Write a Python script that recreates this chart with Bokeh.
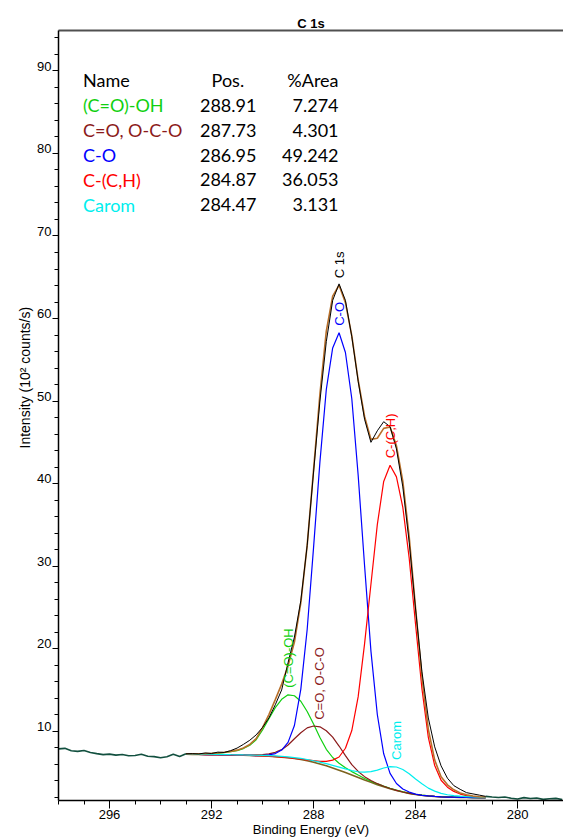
import numpy as np
from bokeh.plotting import figure
from bokeh.models import Range1d, LinearAxis, SingleIntervalTicker, FixedTicker, Title
from bokeh.core.properties import value
from bokeh.embed import file_html
from bokeh.resources import INLINE

# ---------------- data ----------------
# fit region energy grid (eV)
region_energy = [293.0, 292.75, 292.5, 292.25, 292.0, 291.75, 291.5, 291.25, 291.0, 290.75,
                 290.5, 290.25, 290.0, 289.75, 289.5, 289.25, 289.0, 288.75, 288.5, 288.25,
                 288.0, 287.75, 287.5, 287.25, 287.0, 286.75, 286.5, 286.25, 286.0, 285.75,
                 285.5, 285.25, 285.0, 284.75, 284.5, 284.25, 284.0, 283.75, 283.5, 283.25,
                 283.0, 282.75, 282.5, 282.25, 282.0, 281.75, 281.5, 281.25]

# Shirley background (10^2 counts/s)
background = [7.20, 7.19, 7.18, 7.17, 7.16, 7.15, 7.14, 7.12, 7.10, 7.08,
              7.06, 7.03, 7.00, 6.96, 6.92, 6.86, 6.78, 6.69, 6.57, 6.42,
              6.24, 6.03, 5.80, 5.54, 5.27, 4.98, 4.68, 4.38, 4.08, 3.80,
              3.52, 3.26, 3.02, 2.81, 2.62, 2.46, 2.33, 2.23, 2.15, 2.09,
              2.05, 2.02, 2.00, 1.98, 1.97, 1.96, 1.95, 1.95]

# component intensities above the background
comp_cooh = [0.04, 0.05, 0.06, 0.09, 0.13, 0.18, 0.27, 0.39, 0.54, 0.81,
             1.23, 1.93, 3.16, 4.54, 5.93, 7.00, 7.62, 7.60, 7.05, 5.97,
             4.62, 3.20, 2.00, 1.27, 0.85, 0.60, 0.42, 0.30, 0.19, 0.14,
             0.10, 0.08, 0.06, 0.05, 0.04, 0.03, 0.03, 0.02, 0.02, 0.01,
             0.01, 0.0, 0.0, 0.0, 0.0, 0.0, 0.0, 0.0]
comp_co_oco = [0.0, 0.0, 0.0, 0.0, 0.0, 0.0, 0.0, 0.01, 0.02, 0.03,
               0.05, 0.09, 0.15, 0.28, 0.52, 0.90, 1.55, 2.39, 3.24, 3.98,
               4.39, 4.50, 4.25, 3.74, 2.93, 2.05, 1.26, 0.74, 0.41, 0.22,
               0.12, 0.07, 0.04, 0.02, 0.01, 0.0, 0.0, 0.0, 0.0, 0.0,
               0.0, 0.0, 0.0, 0.0, 0.0, 0.0, 0.0, 0.0]
comp_c_o = [0.0, 0.0, 0.0, 0.0, 0.0, 0.0, 0.0, 0.0, 0.0, 0.0,
            0.0, 0.0, 0.05, 0.16, 0.37, 0.85, 1.86, 4.00, 8.50, 15.9,
            26.0, 36.6, 45.6, 50.9, 53.0, 50.9, 45.6, 36.6, 26.0, 15.9,
            8.50, 4.00, 1.86, 0.85, 0.37, 0.16, 0.05, 0.0, 0.0, 0.0,
            0.0, 0.0, 0.0, 0.0, 0.0, 0.0, 0.0, 0.0]
comp_cch = [0.0, 0.0, 0.0, 0.0, 0.0, 0.0, 0.0, 0.0, 0.0, 0.0,
            0.0, 0.0, 0.0, 0.0, 0.0, 0.0, 0.0, 0.0, 0.05, 0.10,
            0.20, 0.30, 0.55, 0.95, 1.60, 2.95, 5.40, 9.80, 16.5, 24.0,
            31.5, 37.0, 39.2, 38.0, 34.5, 28.5, 20.6, 12.9, 7.10, 3.75,
            2.00, 1.20, 0.70, 0.40, 0.23, 0.12, 0.06, 0.03]
comp_carom = [0.02, 0.02, 0.02, 0.02, 0.02, 0.03, 0.03, 0.03, 0.04, 0.04,
              0.05, 0.05, 0.06, 0.07, 0.08, 0.09, 0.10, 0.11, 0.13, 0.15,
              0.18, 0.22, 0.27, 0.32, 0.38, 0.45, 0.55, 0.70, 0.95, 1.30,
              1.76, 2.28, 2.68, 2.85, 2.74, 2.39, 1.87, 1.40, 0.95, 0.65,
              0.42, 0.28, 0.20, 0.14, 0.10, 0.07, 0.05, 0.04]

# measured spectrum
raw_energy = [298.0, 297.75, 297.5, 297.25, 297.0, 296.75, 296.5, 296.25, 296.0, 295.75,
              295.5, 295.25, 295.0, 294.75, 294.5, 294.25, 294.0, 293.75, 293.5, 293.25,
              293.0, 292.75, 292.5, 292.25, 292.0, 291.75, 291.5, 291.25, 291.0, 290.75,
              290.5, 290.25, 290.0, 289.75, 289.5, 289.25, 289.0, 288.75, 288.5, 288.25,
              288.0, 287.75, 287.5, 287.25, 287.0, 286.75, 286.5, 286.25, 286.0, 285.75,
              285.5, 285.25, 285.0, 284.75, 284.5, 284.25, 284.0, 283.75, 283.5, 283.25,
              283.0, 282.75, 282.5, 282.25, 282.0, 281.75, 281.5, 281.25, 281.0, 280.75,
              280.5, 280.25, 280.0, 279.75, 279.5, 279.25, 279.0, 278.75, 278.5, 278.25]
raw_counts = [7.85, 7.92, 7.62, 7.55, 7.66, 7.42, 7.28, 7.16, 7.22, 7.10,
              7.18, 7.02, 7.06, 7.20, 6.96, 6.92, 6.78, 6.90, 7.20, 6.92,
              7.26, 7.28, 7.24, 7.36, 7.30, 7.46, 7.42, 7.64, 7.95, 8.40,
              8.90, 9.55, 10.45, 11.60, 13.20, 15.00, 18.30, 21.40, 25.80, 32.50,
              41.40, 50.00, 57.20, 62.20, 64.20, 62.20, 57.80, 52.40, 47.80, 45.00,
              46.40, 47.50, 46.90, 44.20, 39.60, 32.90, 24.80, 17.20, 11.60, 8.10,
              5.80, 4.30, 3.40, 2.95, 2.55, 2.40, 2.25, 2.10, 2.02, 1.96,
              2.02, 1.88, 1.78, 1.95, 1.84, 1.90, 1.74, 1.82, 1.86, 1.72]

# y-axis tick labels
y_tick_values = [10, 20, 30, 40, 50, 60, 70, 80, 90]

# quantification table
comp_names = ["(C=O)-OH", "C=O, O-C-O", "C-O", "C-(C,H)", "Carom"]
comp_positions = [288.91, 287.73, 286.95, 284.87, 284.47]
comp_areas = [7.274, 4.301, 49.242, 36.053, 3.131]
table_headers = ["Name", "Pos.", "%Area"]

# ---------------- styling ----------------
FONT = "Liberation Sans"
TABLE_FONT = "Lato"
comp_colors = ["#10d010", "#8b1a1a", "#0000ff", "#ff0000", "#00eeee"]
BG_COLOR = "#7d6420"
ENV_COLOR = "#b8702a"
RAW_OUT_COLOR = "#12503f"

xr = np.array(region_energy)
bg = np.array(background)
comps = [np.array(c) for c in (comp_cooh, comp_co_oco, comp_c_o, comp_cch, comp_carom)]
envelope = bg + sum(comps)
rx = np.array(raw_energy)
ry = np.array(raw_counts)

X0, X1 = 298.0, 278.2
Y0, Y1 = 1.6, 94.9

p = figure(width=563, height=839, output_backend="svg", toolbar_location=None,
           x_range=Range1d(X0, X1), y_range=Range1d(Y0, Y1),
           min_border_left=58, min_border_right=0, min_border_top=30, min_border_bottom=39)
p.xgrid.visible = False
p.ygrid.visible = False
p.outline_line_color = None
p.background_fill_color = "white"
p.border_fill_color = "white"

p.xaxis.ticker = SingleIntervalTicker(interval=4, num_minor_ticks=4)
p.yaxis.ticker = SingleIntervalTicker(interval=10, num_minor_ticks=5)
for ax in (p.xaxis[0], p.yaxis[0]):
    ax.axis_line_color = "black"
    ax.axis_line_width = 1.5
    ax.major_tick_line_color = "black"
    ax.minor_tick_line_color = "black"
    ax.major_tick_in = 0
    ax.minor_tick_in = 0
    ax.major_label_text_font = FONT
    ax.major_label_text_font_size = "13px"
    ax.major_label_text_color = "black"
    ax.axis_label_text_font = FONT
    ax.axis_label_text_font_size = "13px"
    ax.axis_label_text_font_style = "normal"
    ax.axis_label_text_color = "black"
p.xaxis.major_tick_out = 8
p.xaxis.minor_tick_out = 4
p.xaxis.major_label_standoff = 1
p.xaxis.axis_label = "Binding Energy (eV)"
p.xaxis.axis_label_standoff = 0
p.yaxis.major_tick_out = 6
p.yaxis.minor_tick_out = 4
p.yaxis.major_label_standoff = 1
# y labels sit just above their tick, as in the reference
p.yaxis.major_label_overrides = {v: f"{v}\n " for v in y_tick_values}
p.yaxis.major_label_text_line_height = 0.65

# top frame line carrying the title
top_axis = LinearAxis(ticker=FixedTicker(ticks=[]), axis_line_color="#505050", axis_line_width=2,
                      major_label_standoff=0, axis_label="C 1s", axis_label_standoff=0,
                      axis_label_text_font=FONT, axis_label_text_font_size="13px",
                      axis_label_text_font_style="bold", axis_label_text_color="black")
p.add_layout(top_axis, "above")

# y-axis title (shifted upward as in the reference)
p.add_layout(Title(text="Intensity (10² counts/s)", align="left", offset=352,
                   text_font=FONT, text_font_size="14px", text_font_style="normal",
                   text_color="black", standoff=4), "left")

# background and components
p.line(xr, bg, color=BG_COLOR, line_width=1.6)
for comp, col in zip(comps, comp_colors):
    p.line(xr, bg + comp, color=col, line_width=1.2)
p.line(xr, envelope, color=ENV_COLOR, line_width=1.6)

# raw data: outside fit region (dark teal) and inside (black)
left = rx >= xr[0]
right = rx <= xr[-1]
inside = (rx <= xr[0]) & (rx >= xr[-1])
p.line(rx[left], ry[left], color=RAW_OUT_COLOR, line_width=1.6)
p.line(rx[right], ry[right], color=RAW_OUT_COLOR, line_width=1.6)
p.line(rx[inside], ry[inside], color="black", line_width=1.0)

# rotated peak labels, placed just above each curve maximum
peak_labels = [("C 1s", envelope, envelope, "black")]
for name, comp, col in zip(comp_names, comps, comp_colors):
    peak_labels.append((name, comp, bg + comp, col))
for name, shape, curve, col in peak_labels:
    i = int(np.argmax(shape))
    p.text(x=[xr[i]], y=[curve[i]], text=[name], angle=np.pi / 2,
           text_align="left", text_baseline="middle", y_offset=-7,
           text_font=value(FONT), text_font_size="13px", text_color=col)

# quantification table
row0, row_step = 88.87, 3.02
name_x, pos_right_x, pos_head_x, area_right_x = 297.04, 290.24, 291.36, 287.02
tstyle = dict(text_baseline="middle", text_font=value(TABLE_FONT), text_font_size="18px")
p.text(x=[name_x], y=[row0], text=[table_headers[0]], text_align="left", text_color="black", **tstyle)
p.text(x=[pos_head_x], y=[row0], text=[table_headers[1]], text_align="center", text_color="black", **tstyle)
p.text(x=[area_right_x], y=[row0], text=[table_headers[2]], text_align="right", text_color="black", **tstyle)
for k, (nm, pos, ar, col) in enumerate(zip(comp_names, comp_positions, comp_areas, comp_colors)):
    yy = row0 - (k + 1) * row_step
    p.text(x=[name_x], y=[yy], text=[nm], text_align="left", text_color=col, **tstyle)
    p.text(x=[pos_right_x], y=[yy], text=[f"{pos:.2f}"], text_align="right", text_color="black", **tstyle)
    p.text(x=[area_right_x], y=[yy], text=[f"{ar:.3f}"], text_align="right", text_color="black", **tstyle)

open("out.html", "w").write(file_html(p, INLINE))
